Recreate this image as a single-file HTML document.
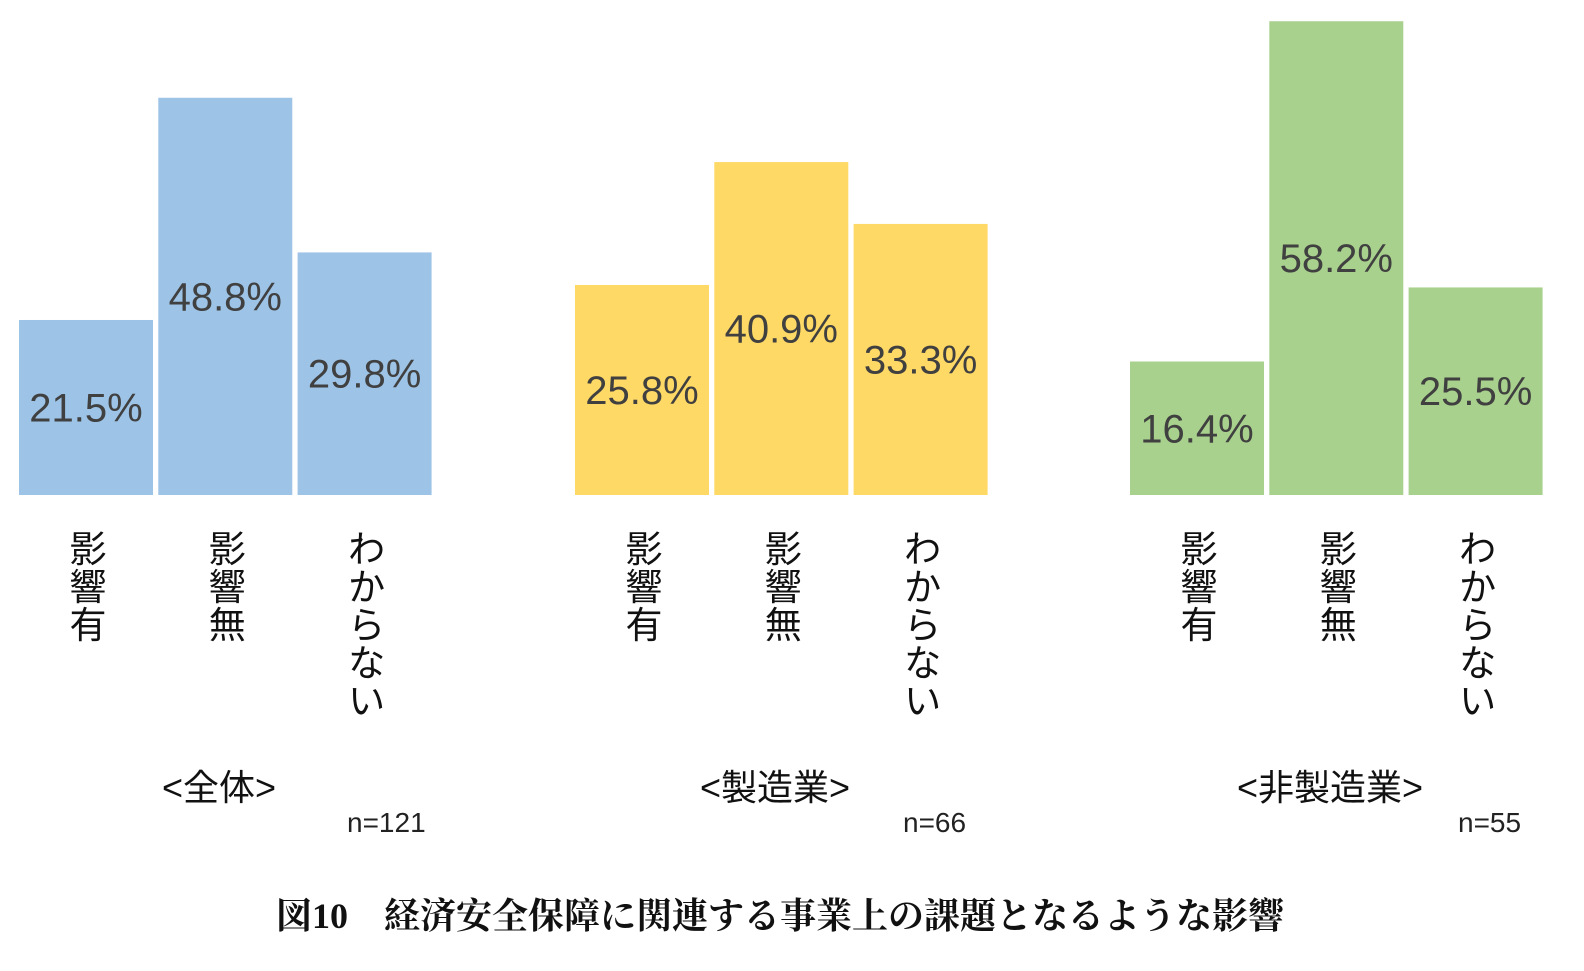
<!DOCTYPE html>
<html><head><meta charset="utf-8"><style>
body{margin:0;background:#fff;width:1584px;height:971px;overflow:hidden}
svg{display:block;font-family:"Liberation Sans","Noto Sans CJK JP",sans-serif}
</style></head><body>
<svg id="chart" width="1584" height="971" viewBox="0 0 1584 971"></svg>
<script>
const groups = ["<全体>", "<製造業>", "<非製造業>"];
const sampleSizes = ["n=121", "n=66", "n=55"];
const categories = ["影響有", "影響無", "わからない"];
const valuesAll = [21.5, 48.8, 29.8];
const valuesMfg = [25.8, 40.9, 33.3];
const valuesNonMfg = [16.4, 58.2, 25.5];
const series = [valuesAll, valuesMfg, valuesNonMfg];
const colors = ["#9DC3E6", "#FFD966", "#A9D18E"];

const svg = document.getElementById('chart');
const NS = "http://www.w3.org/2000/svg";
const baseY = 495, pxPerPct = 8.14;
const groupX = [19, 575, 1130], barW = 134, barStep = 139.3;
function yScale(v){ return baseY - v * pxPerPct; }
function xScale(g, i){ return groupX[g] + i * barStep; }
function mk(tag, attrs){ const e = document.createElementNS(NS, tag); for (const k in attrs) e.setAttribute(k, attrs[k]); svg.appendChild(e); return e; }

series.forEach((vals, g) => {
  vals.forEach((v, i) => {
    const x = xScale(g, i), y = yScale(v);
    const r = mk('rect', {x: x, y: y, width: barW, height: baseY - y, fill: colors[g]});
    
    
    const t = mk('text', {x: x + barW/2, y: (y + baseY)/2 + 14, 'text-anchor': 'middle', 'font-size': 40, fill: '#404040'});
    t.textContent = v.toFixed(1) + '%';
    
    
    const chars = Array.from(categories[i]);
    chars.forEach((c, k) => {
      const ct = mk('text', {x: x + barW/2 + 2, y: 562 + k * 38, 'text-anchor': 'middle', 'font-size': 37, fill: '#111'});
      ct.textContent = c;
      
      
    });
  });
  const gt = mk('text', {x: groupX[g] + 200, y: 800, 'text-anchor': 'middle', 'font-size': 36, fill: '#111'});
  gt.textContent = groups[g];
  
  
  const nt = mk('text', {x: groupX[g] + 328, y: 832, 'font-size': 28, fill: '#222'});
  nt.textContent = sampleSizes[g];
  
  
});
const title = mk('text', {x: 780, y: 928, 'text-anchor': 'middle', 'font-size': 36, 'font-weight': 'bold', fill: '#111', 'font-family': '"Liberation Serif","Noto Serif CJK SC",serif'});
title.textContent = "図10　経済安全保障に関連する事業上の課題となるような影響";


</script>
</body></html>
